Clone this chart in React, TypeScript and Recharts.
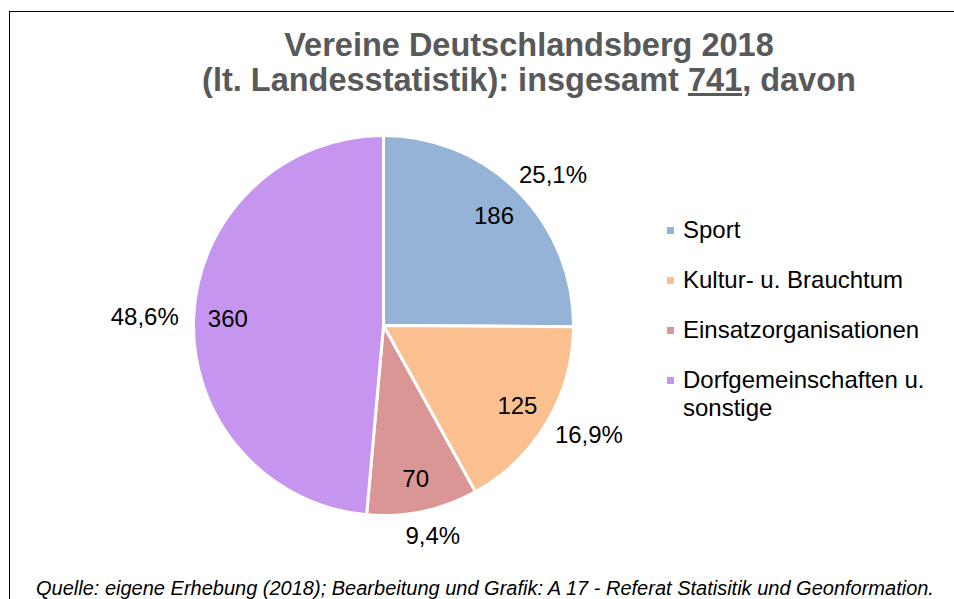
import { PieChart, Pie, Cell, Legend } from 'recharts';

const CATEGORIES = ['Sport', 'Kultur- u. Brauchtum', 'Einsatzorganisationen', 'Dorfgemeinschaften u. sonstige'];
const COUNTS = [186, 125, 70, 360];
const COLORS = ['#95B3D7', '#FAC090', '#D99694', '#C595EF'];

const TITLE_LINE_1 = 'Vereine Deutschlandsberg 2018';
const TITLE_PRE = '(lt. Landesstatistik): insgesamt ';
const TITLE_TOTAL = '741';
const TITLE_POST = ', davon';
const SOURCE = 'Quelle: eigene Erhebung (2018); Bearbeitung und Grafik: A 17 - Referat Statisitik und Geonformation.';

const FONT = '"Liberation Sans", Arial, sans-serif';
const RAD = Math.PI / 180;

const total = COUNTS.reduce((a, b) => a + b, 0);
const chartData = CATEGORIES.map((name, i) => ({ name, value: COUNTS[i], color: COLORS[i] }));

const fmtPct = (v: number) => ((v / total) * 100).toFixed(1).replace('.', ',') + '%';

function SliceLabel(props: any) {
  const { cx, cy, midAngle, outerRadius, value } = props;
  const dx = Math.cos(midAngle * RAD);
  const dy = -Math.sin(midAngle * RAD);
  const rIn = outerRadius * 0.82;
  const rOut = outerRadius + 14;
  const px = cx + dx * rOut + dx * 35;
  const py = cy + dy * rOut + dy * 10;
  return (
    <g>
      <text
        x={cx + dx * rIn}
        y={cy + dy * rIn}
        dy="0.36em"
        textAnchor="middle"
        fill="#000"
        fontSize={24}
        fontFamily={FONT}
      >
        {value}
      </text>
      <text x={px} y={py} dy="0.36em" textAnchor="middle" fill="#000" fontSize={24} fontFamily={FONT}>
        {fmtPct(value)}
      </text>
    </g>
  );
}

// legend drawn from our own arrays so the order stays Sport -> Dorfgemeinschaften
function LegendList() {
  return (
    <div style={{ fontFamily: FONT, fontSize: 24, lineHeight: '28px', color: '#000' }}>
      {chartData.map((d, i) => (
        <div key={i} style={{ position: 'relative', paddingLeft: 18, marginBottom: 22, width: 260 }}>
          <span
            style={{
              position: 'absolute',
              left: 2,
              top: 11,
              width: 7,
              height: 7,
              background: d.color,
            }}
          />
          {d.name}
        </div>
      ))}
    </div>
  );
}

export default function App() {
  return (
    <div
      style={{
        position: 'absolute',
        left: 0,
        top: 0,
        width: 954,
        height: 599,
        overflow: 'hidden',
        background: '#fff',
      }}
    >
      <div
        style={{
          position: 'absolute',
          left: 9,
          top: 11,
          width: 1000,
          height: 700,
          borderLeft: '1.5px solid #000',
          borderTop: '1.5px solid #000',
        }}
      />
      <div
        style={{
          position: 'absolute',
          left: 129,
          top: 28,
          width: 800,
          textAlign: 'center',
          fontFamily: FONT,
          fontWeight: 'bold',
          fontSize: 32.5,
          lineHeight: '35px',
          color: '#595959',
        }}
      >
        <div>{TITLE_LINE_1}</div>
        <div>
          {TITLE_PRE}
          <span style={{ textDecoration: 'underline' }}>{TITLE_TOTAL}</span>
          {TITLE_POST}
        </div>
      </div>
      <div style={{ position: 'absolute', left: 0, top: 0 }}>
        <PieChart width={954} height={599} margin={{ top: 0, right: 0, bottom: 0, left: 0 }}>
          <Pie
            data={chartData}
            dataKey="value"
            nameKey="name"
            cx={383.5}
            cy={325.5}
            outerRadius={190}
            startAngle={90}
            endAngle={-270}
            stroke="#fff"
            strokeWidth={3}
            label={SliceLabel}
            labelLine={false}
            isAnimationActive={false}
          >
            {chartData.map((d, i) => (
              <Cell key={`cell-${i}`} fill={d.color} />
            ))}
          </Pie>
          <Legend
            layout="horizontal"
            verticalAlign="middle"
            align="center"
            width={285}
            wrapperStyle={{ left: 665, top: 216 }}
            content={<LegendList />}
          />
        </PieChart>
      </div>
      <div
        style={{
          position: 'absolute',
          left: 36,
          top: 577,
          whiteSpace: 'nowrap',
          fontFamily: FONT,
          fontStyle: 'italic',
          fontSize: 20,
          lineHeight: '22px',
          color: '#000',
        }}
      >
        {SOURCE}
      </div>
    </div>
  );
}
